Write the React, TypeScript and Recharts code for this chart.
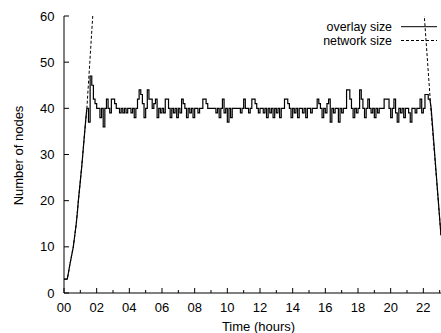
import React from "react";
import {
  LineChart,
  Line,
  XAxis,
  YAxis,
  Legend,
  Label,
} from "recharts";

// hours on the x axis (labels on even hours, minor ticks on odd ones)
const HOURS = [0, 1, 2, 3, 4, 5, 6, 7, 8, 9, 10, 11, 12, 13, 14, 15, 16, 17, 18, 19, 20, 21, 22, 23, 24];
const NODE_TICKS = [0, 10, 20, 30, 40, 50, 60];
const LEGEND_ORDER = ["overlay size", "network size"];

// overlay ramp-up at start (time in hours, nodes)
const rampUpTimes = [0, 0.2, 0.28, 0.35, 0.46, 0.57, 0.66, 0.75, 0.82, 0.88, 0.95, 1.02, 1.09, 1.15, 1.21, 1.27, 1.33, 1.4];
const rampUpNodes = [3, 3, 4.5, 6, 8, 10, 12.5, 15, 17.5, 20, 22.5, 25, 27.5, 30, 32.5, 35, 37.5, 40];

// overlay steady state, sampled every 0.1 h from 1.4 h
const STEADY_START = 1.4;
const STEADY_STEP = 0.1;
const steadyNodes = [
  40, 37, 47, 45, 42, 41,
  40, 40, 38, 40, 36, 40, 42, 40, 39, 42,
  42, 41, 40, 40, 39, 40, 39, 40, 39, 40,
  40, 39, 40, 38, 40, 42, 44, 43, 41, 38,
  40, 44, 42, 42, 40, 41, 42, 38, 40, 39,
  40, 39, 42, 42, 40, 38, 40, 39, 40, 38,
  40, 39, 42, 41, 40, 38, 40, 39, 40, 38,
  40, 40, 39, 40, 40, 42, 42, 41, 40, 40,
  40, 40, 40, 39, 40, 38, 40, 42, 39, 40,
  37, 40, 38, 40, 40, 40, 40, 40, 39, 40,
  42, 40, 40, 39, 40, 42, 42, 41, 40, 39,
  40, 40, 39, 40, 38, 40, 39, 40, 38, 40,
  39, 40, 38, 40, 40, 42, 42, 41, 40, 38,
  40, 39, 40, 38, 40, 40, 39, 40, 38, 40,
  40, 39, 40, 40, 40, 42, 41, 40, 38, 40,
  39, 41, 42, 37, 40, 39, 40, 40, 37, 40,
  39, 40, 40, 44, 44, 42, 40, 38, 40, 39,
  40, 44, 42, 40, 38, 40, 42, 40, 39, 40,
  38, 40, 39, 40, 40, 40, 42, 42, 42, 40,
  38, 40, 42, 39, 37, 40, 39, 40, 38, 40,
  40, 39, 37, 40, 40, 39, 40, 40, 42, 39,
  40, 43, 43, 42, 42,
];

// overlay drop at the end
const rampDownTimes = [22.4, 22.48, 23.08];
const rampDownNodes = [42, 40, 12.5];

// network size (goes off the top of the plot in the middle)
const networkTimes = [0, 0.2, 0.35, 0.57, 0.75, 0.88, 1.02, 1.15, 1.27, 1.4, 1.58, 1.76, 1.95, 2.2, 2.4, 21.7, 22.06, 22.45, 23.08];
const networkNodes = [3, 3, 6, 10, 15, 20, 25, 30, 35, 40, 50, 60, 72, 90, 100, 100, 60, 40.5, 12.5];

const toPoints = (ts: number[], vs: number[]) => ts.map((t, i) => ({ t, n: vs[i] }));
const rampUp = toPoints(rampUpTimes, rampUpNodes);
const steady = steadyNodes.map((n, i) => ({ t: +(STEADY_START + i * STEADY_STEP).toFixed(2), n }));
const rampDown = toPoints(rampDownTimes, rampDownNodes);
const network = toPoints(networkTimes, networkNodes);

const FONT = "'Liberation Sans', Arial, Helvetica, sans-serif";
const FS = 13;

const BottomTick = (props: any) => {
  const { x, y, payload } = props;
  const h = payload.value as number;
  const major = h % 2 === 0;
  return (
    <g>
      <line x1={x} y1={y} x2={x} y2={y - (major ? 5 : 3)} stroke="#000" />
      {major && h < 24 && (
        <text x={x} y={y + 19} textAnchor="middle" fontFamily={FONT} fontSize={FS} fill="#000">
          {String(h).padStart(2, "0")}
        </text>
      )}
    </g>
  );
};

const TopTick = (props: any) => {
  const { x, y, payload } = props;
  const major = (payload.value as number) % 2 === 0;
  return <line x1={x} y1={y} x2={x} y2={y + (major ? 5 : 3)} stroke="#000" />;
};

const LeftTick = (props: any) => {
  const { x, y, payload } = props;
  return (
    <g>
      <line x1={x} y1={y} x2={x + 5} y2={y} stroke="#000" />
      <text x={x - 9.5} y={y + 4.6} textAnchor="end" fontFamily={FONT} fontSize={FS} fill="#000">
        {payload.value}
      </text>
    </g>
  );
};

const LegendBox = ({ payload }: any) => {
  const items = LEGEND_ORDER.map((name) => (payload || []).find((e: any) => e.value === name)).filter(Boolean);
  return (
    <svg width={141} height={34} style={{ display: "block" }}>
      {items.map((entry: any, i: number) => {
        const base = 13.2 + i * 13.8;
        return (
          <g key={entry.value}>
            <text x={92} y={base} textAnchor="end" fontFamily={FONT} fontSize={12.4} fill="#000">
              {entry.value}
            </text>
            <line
              x1={101}
              x2={137}
              y1={base - 4.5}
              y2={base - 4.5}
              stroke="#000"
              strokeDasharray={entry.payload?.strokeDasharray}
            />
          </g>
        );
      })}
    </svg>
  );
};

export default function App() {
  return (
    <div style={{ position: "absolute", left: 0, top: 0, width: 441, height: 333, overflow: "hidden", background: "#fff" }}>
      <LineChart width={456} height={333} margin={{ top: 16, right: 0, bottom: 0, left: 0 }}>
        <XAxis
          dataKey="t"
          type="number"
          domain={[0, 24]}
          ticks={HOURS}
          interval={0}
          allowDataOverflow
          height={40}
          tickSize={0}
          tickMargin={0}
          tick={<BottomTick />}
          axisLine={{ stroke: "#000" }}
        >
          <Label
            content={(p: any) => {
              const vb = p.viewBox;
              return (
                <text x={vb.x + vb.width / 2 - 1.5} y={vb.y + 37.5} textAnchor="middle" fontFamily={FONT} fontSize={FS} fill="#000">
                  Time (hours)
                </text>
              );
            }}
          />
        </XAxis>
        <XAxis
          xAxisId="top"
          dataKey="t"
          type="number"
          orientation="top"
          domain={[0, 24]}
          ticks={HOURS}
          interval={0}
          allowDataOverflow
          height={0}
          tickSize={0}
          tickMargin={0}
          tick={<TopTick />}
          axisLine={{ stroke: "#000" }}
        />
        <YAxis
          type="number"
          domain={[0, 60]}
          ticks={NODE_TICKS}
          interval={0}
          allowDataOverflow
          width={64}
          tickSize={0}
          tickMargin={0}
          tick={<LeftTick />}
          axisLine={{ stroke: "#000" }}
        >
          <Label
            content={(p: any) => {
              const vb = p.viewBox;
              const cx = vb.x + 23;
              const cy = vb.y + vb.height / 2 + 1;
              return (
                <text x={cx} y={cy} transform={`rotate(-90, ${cx}, ${cy})`} textAnchor="middle" fontFamily={FONT} fontSize={FS} fill="#000">
                  Number of nodes
                </text>
              );
            }}
          />
        </YAxis>
        <Legend
          layout="horizontal"
          verticalAlign="middle"
          align="center"
          wrapperStyle={{ top: 18, left: 300, width: 141, height: 34 }}
          content={(p: any) => <LegendBox payload={p.payload} />}
        />
        <Line
          data={network}
          dataKey="n"
          name="network size"
          type="linear"
          stroke="#000"
          strokeWidth={1}
          strokeDasharray="3 2"
          dot={false}
          activeDot={false}
          isAnimationActive={false}
        />
        <Line
          data={rampUp}
          dataKey="n"
          name="overlay ramp"
          type="linear"
          stroke="#000"
          strokeWidth={1.2}
          dot={false}
          activeDot={false}
          isAnimationActive={false}
          legendType="none"
        />
        <Line
          data={steady}
          dataKey="n"
          name="overlay size"
          type="stepAfter"
          stroke="#000"
          strokeWidth={1.2}
          dot={false}
          activeDot={false}
          isAnimationActive={false}
        />
        <Line
          data={rampDown}
          dataKey="n"
          name="overlay drop"
          type="linear"
          stroke="#000"
          strokeWidth={1.2}
          dot={false}
          activeDot={false}
          isAnimationActive={false}
          legendType="none"
        />
      </LineChart>
    </div>
  );
}
